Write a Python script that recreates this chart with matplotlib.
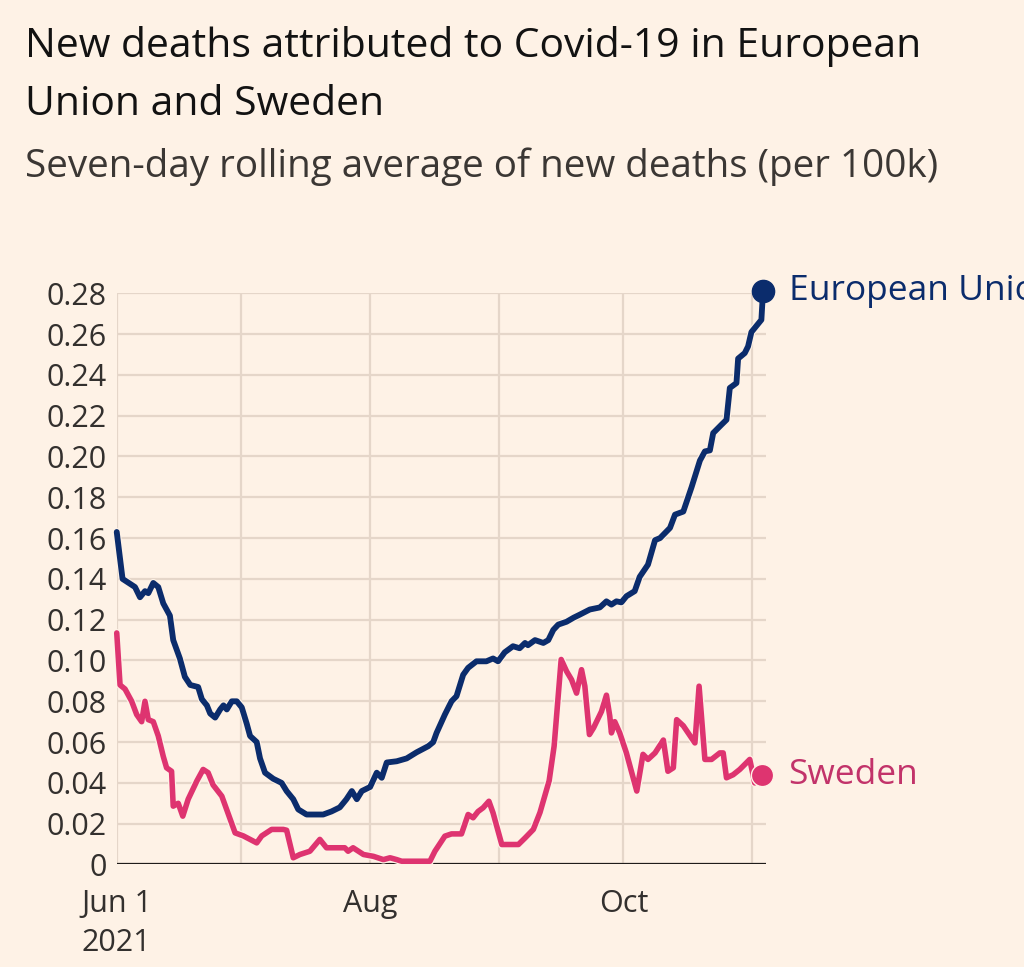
import matplotlib
matplotlib.use("Agg")
import matplotlib.pyplot as plt
import matplotlib.patheffects as pe
import numpy as np
import pandas as pd

# ---------------- data ----------------
start_date = "2021-06-01"

eu_days = [0, 1.4, 4.4, 5.6, 6.8, 7.6, 8.8, 10, 11.2, 12.8, 13.6, 15.2, 16.4, 17.7, 19.6,
           20.5, 21.7, 22.5, 23.7, 24.9, 25.7, 26.5, 27.7, 28.9, 30.1, 31.3, 32.1, 33.7,
           34.5, 35.7, 37.7, 39.7, 40.9, 42.5, 43.7, 45.7, 49.7, 51.7, 53.7, 55.3, 56.6,
           57.8, 59, 61, 62.6, 63.8, 65, 67.4, 69.8, 72.2, 75, 76.2, 77, 79, 80.6, 81.8,
           83.4, 84.6, 86.6, 89, 90.6, 91.8, 93.4, 95.4, 97, 98.3, 99, 100.7, 102.7, 103.9,
           105.1, 106.3, 108.3, 110, 111.5, 113.9, 116.3, 117.9, 119.1, 120.3, 121.5, 122.7,
           124.7, 125.9, 127.9, 129.6, 130.8, 133.2, 134.4, 136.4, 138.4, 140.4, 141.6,
           142.8, 143.6, 145.6, 146.8, 147.6, 149.2, 149.6, 151.2, 152, 152.8, 155.2, 155.6]
eu_values = [0.163, 0.140, 0.136, 0.131, 0.134, 0.133, 0.138, 0.136, 0.128, 0.122, 0.110,
             0.101, 0.092, 0.088, 0.087, 0.081, 0.078, 0.074, 0.072, 0.076, 0.078, 0.076,
             0.080, 0.080, 0.077, 0.069, 0.063, 0.060, 0.052, 0.045, 0.042, 0.040, 0.036,
             0.032, 0.027, 0.0245, 0.0245, 0.026, 0.028, 0.032, 0.036, 0.032, 0.036, 0.038,
             0.045, 0.0425, 0.050, 0.0506, 0.052, 0.055, 0.058, 0.060, 0.0645, 0.0735, 0.080,
             0.0825, 0.093, 0.0964, 0.0996, 0.0996, 0.101, 0.0996, 0.104, 0.107, 0.106,
             0.1086, 0.1075, 0.110, 0.1086, 0.110, 0.115, 0.1176, 0.119, 0.121, 0.1225,
             0.125, 0.126, 0.129, 0.1274, 0.129, 0.1285, 0.1315, 0.134, 0.141, 0.147, 0.159,
             0.160, 0.165, 0.1715, 0.173, 0.185, 0.198, 0.2025, 0.203, 0.2115, 0.2156, 0.218,
             0.2336, 0.236, 0.248, 0.2507, 0.254, 0.261, 0.267, 0.281]

se_days = [0, 0.8, 2, 3.6, 4.8, 6, 6.8, 7.6, 8.8, 10, 11.2, 12, 13.2, 13.6, 14.8, 15.9,
           17.2, 19.3, 20.8, 22, 23.2, 25.3, 28.5, 30.5, 33.7, 34.9, 37.3, 40.1, 40.9,
           42.5, 44.1, 46.5, 48.9, 50.5, 54.9, 55.7, 56.9, 59.4, 61.8, 64.2, 65.8, 67.4,
           68.6, 75.4, 76.6, 79, 80.6, 83, 84.6, 85.8, 87, 88.2, 89.6, 90.6, 92.7, 96.7,
           98.3, 100.3, 101.9, 104.1, 105.3, 107, 108.3, 109.5, 110.7, 111.9, 112.7, 113.8,
           114.8, 116.7, 117.9, 118.7, 119.1, 119.9, 121.1, 122.7, 125.2, 126.7, 127.9,
           129.6, 131.6, 132.7, 134, 134.8, 136.4, 139.2, 140.2, 141.6, 143.2, 145.2, 146,
           146.8, 148.4, 150, 152.4, 153.6, 155.4]
se_values = [0.1135, 0.088, 0.086, 0.080, 0.0735, 0.070, 0.080, 0.071, 0.070, 0.063, 0.053,
             0.0474, 0.0457, 0.0286, 0.030, 0.0237, 0.032, 0.041, 0.0466, 0.045, 0.039,
             0.0335, 0.0155, 0.014, 0.0106, 0.014, 0.0172, 0.0172, 0.0168, 0.0033, 0.0049,
             0.0065, 0.0123, 0.0082, 0.0082, 0.0065, 0.0082, 0.0049, 0.004, 0.0024, 0.0033,
             0.0024, 0.0016, 0.0016, 0.0065, 0.0139, 0.015, 0.015, 0.0245, 0.0229, 0.026,
             0.0278, 0.031, 0.0253, 0.0098, 0.0098, 0.013, 0.0172, 0.0255, 0.041, 0.058,
             0.1005, 0.0947, 0.0906, 0.084, 0.0955, 0.0874, 0.0637, 0.067, 0.075, 0.083,
             0.0727, 0.0645, 0.070, 0.0645, 0.0547, 0.036, 0.054, 0.0515, 0.0547, 0.061,
             0.0457, 0.0474, 0.071, 0.068, 0.0596, 0.0874, 0.0515, 0.0515, 0.0547, 0.0547,
             0.0425, 0.044, 0.0466, 0.0515, 0.040, 0.044]

series_names = ["European Union", "Sweden"]
y_ticks = [0, 0.02, 0.04, 0.06, 0.08, 0.10, 0.12, 0.14, 0.16, 0.18, 0.20, 0.22, 0.24, 0.26, 0.28]
y_tick_labels = ["0", "0.02", "0.04", "0.06", "0.08", "0.10", "0.12", "0.14", "0.16",
                 "0.18", "0.20", "0.22", "0.24", "0.26", "0.28"]
month_ticks = ["2021-06-01", "2021-07-01", "2021-08-01", "2021-09-01", "2021-10-01", "2021-11-01"]
month_labels = ["Jun 1\n2021", "", "Aug", "", "Oct", ""]

title_lines = ["New deaths attributed to Covid-19 in European", "Union and Sweden"]
subtitle = "Seven-day rolling average of new deaths (per 100k)"

# ---------------- style ----------------
BG = "#fef2e6"
GRID = "#e5d6c9"
EU_COL = "#0b2c6c"
SE_COL = "#de3470"
SE_TXT = "#c2336a"
TXT = "#33302e"
FONT = ["Open Sans", "DejaVu Sans"]

plt.rcParams["font.family"] = FONT

base = pd.Timestamp(start_date)
eu_x = base + pd.to_timedelta(eu_days, unit="D")
se_x = base + pd.to_timedelta(se_days, unit="D")

fig = plt.figure(figsize=(10.24, 9.67), dpi=100, facecolor=BG)
ax = fig.add_axes([0.1140, 0.1060, 0.6340, 0.5907])
ax.set_facecolor(BG)

ax.set_xlim(base, base + pd.Timedelta(days=156.3))
ax.set_ylim(0, 0.28)

for s in ax.spines.values():
    s.set_visible(False)

ax.set_yticks(y_ticks)
ax.set_yticklabels(y_tick_labels)
ax.set_xticks(pd.to_datetime(month_ticks))
ax.set_xticklabels(month_labels, linespacing=1.35)
ax.tick_params(axis="both", length=0, labelsize=22, labelcolor=TXT)
ax.tick_params(axis="y", pad=7)
ax.tick_params(axis="x", pad=18)
ax.grid(True, color=GRID, linewidth=1.6, zorder=0)
ax.set_axisbelow(True)
ax.axhline(0, color="#1f1c1a", linewidth=1.6, zorder=1)

halo = [pe.Stroke(linewidth=5.8, foreground=BG), pe.Normal()]
ax.plot(se_x, se_values, color=SE_COL, linewidth=4.0, solid_joinstyle="round",
        solid_capstyle="round", zorder=3, path_effects=halo, clip_on=False)
ax.plot(eu_x, eu_values, color=EU_COL, linewidth=4.2, solid_joinstyle="round",
        solid_capstyle="round", zorder=4, path_effects=halo, clip_on=False)

ax.plot([eu_x[-1]], [eu_values[-1]], "o", color=EU_COL, markersize=16, zorder=5, clip_on=False)
ax.plot([se_x[-1]], [se_values[-1]], "o", color=SE_COL, markersize=16, zorder=5, clip_on=False,
        markeredgecolor=BG, markeredgewidth=1)

ax.annotate(series_names[0], (eu_x[-1], eu_values[-1]), xytext=(19, 0),
            textcoords="offset points", va="center", ha="left", fontsize=25.5,
            color=EU_COL, annotation_clip=False)
ax.annotate(series_names[1], (se_x[-1], se_values[-1]), xytext=(19, 0),
            textcoords="offset points", va="center", ha="left", fontsize=25.5,
            color=SE_TXT, annotation_clip=False)

fig.text(0.0244, 1 - 57 / 967, title_lines[0], fontsize=29.4, color="#121212", va="baseline")
fig.text(0.0244, 1 - 115 / 967, title_lines[1], fontsize=29.4, color="#121212", va="baseline")
fig.text(0.0244, 1 - 177 / 967, subtitle, fontsize=27.8, color="#3b3734", va="baseline")

fig.savefig("out.png", dpi=100, facecolor=BG)
